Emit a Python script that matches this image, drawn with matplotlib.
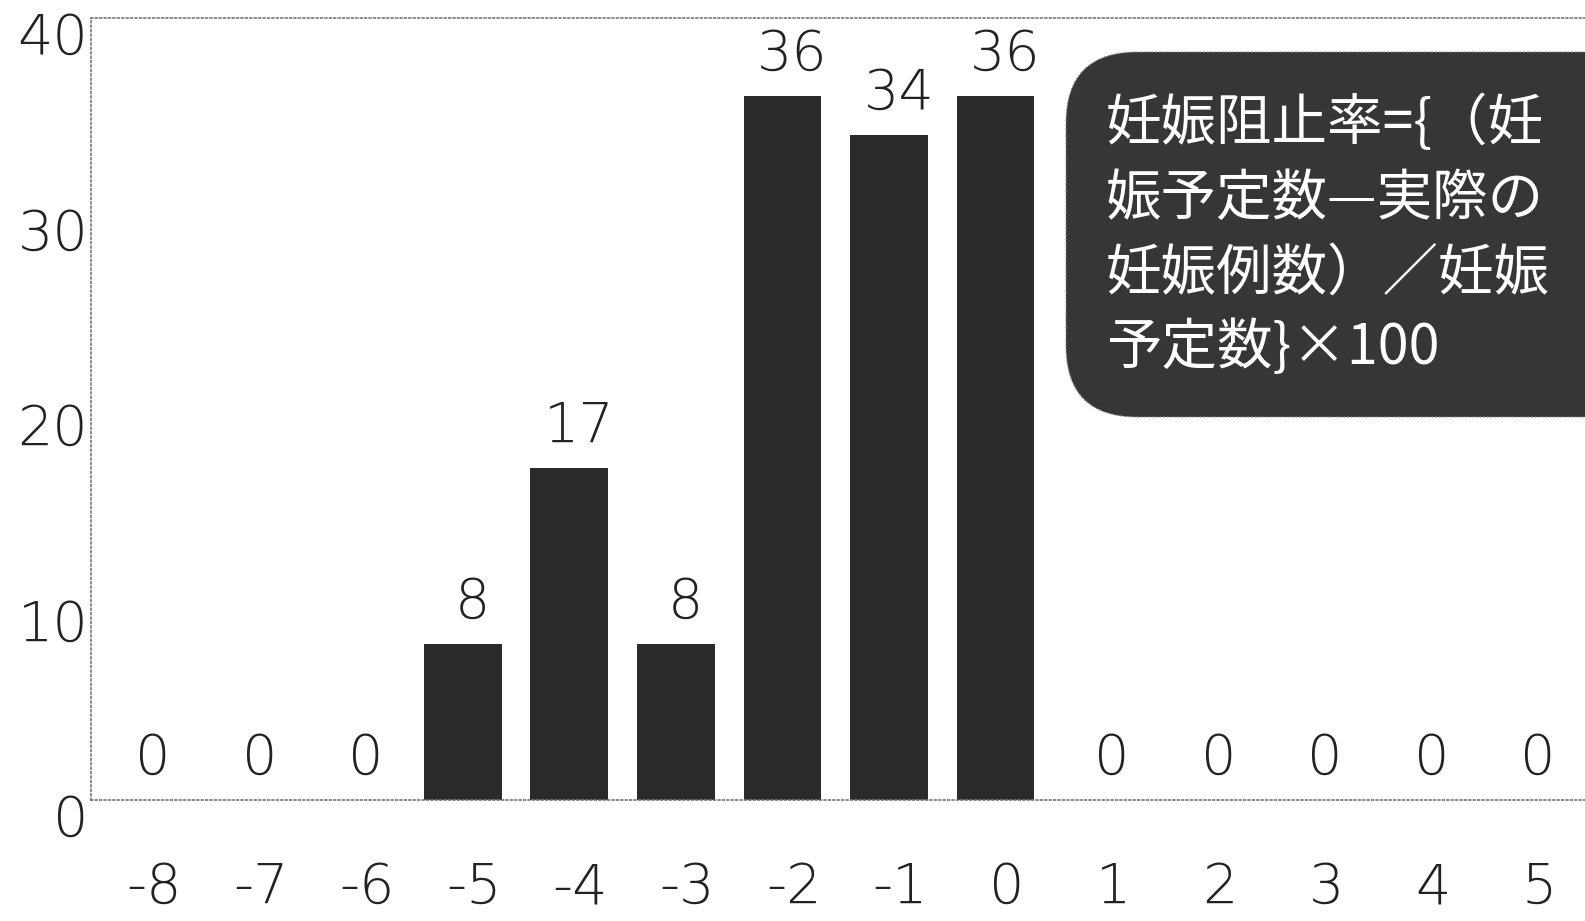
import matplotlib.pyplot as plt
from matplotlib.patches import FancyBboxPatch
from matplotlib.transforms import ScaledTranslation

plt.rcParams["font.family"] = ["DejaVu Sans", "Noto Sans CJK JP"]

# 月（投与開始からの相対月）と妊娠阻止率
months = [-8, -7, -6, -5, -4, -3, -2, -1, 0, 1, 2, 3, 4, 5]
rates = [0, 0, 0, 8, 17, 8, 36, 34, 36, 0, 0, 0, 0, 0]
yticks = [0, 10, 20, 30, 40]
note = "妊娠阻止率={（妊\n娠予定数—実際の\n妊娠例数）／妊娠\n予定数}×100"

fig = plt.figure(figsize=(15.85, 9.21), dpi=100)
ax = fig.add_axes([91 / 1585, 1 - 800 / 921, 1 - 91 / 1585 + 0.02, (800 - 18) / 921])

ax.bar(months, rates, width=0.73, color="#2a2a2a", zorder=2)
ax.set_xlim(-8.49, 5.83)
ax.set_ylim(0, 40)

num_font = dict(family=["DejaVu Sans"], weight="light", size=40, color="#222222")

for m, r in zip(months, rates):
    ax.annotate(str(r), (m, r), xytext=(7, 10), textcoords="offset points",
                ha="center", va="bottom", **num_font)

ax.set_xticks(months)
ax.set_xticklabels([str(m) for m in months], **num_font)
ax.set_yticks(yticks)
ax.set_yticklabels([str(v) for v in yticks], **num_font)
ax.tick_params(length=0)
ax.tick_params(axis="x", pad=44)
ax.tick_params(axis="y", pad=2)
for lbl in ax.get_xticklabels():
    lbl.set_transform(lbl.get_transform() + ScaledTranslation(8 / 72, 0, fig.dpi_scale_trans))
for lbl in ax.get_yticklabels():
    lbl.set_transform(lbl.get_transform() + ScaledTranslation(0, -11 / 72, fig.dpi_scale_trans))

for side in ["top", "left", "bottom"]:
    ax.spines[side].set_linestyle(":")
    ax.spines[side].set_color("#777777")
    ax.spines[side].set_linewidth(1.2)
ax.spines["right"].set_visible(False)

# 説明ボックス
box = FancyBboxPatch((1066 / 1585, 1 - 417 / 921), 0.4, (417 - 52) / 921,
                     boxstyle="round,pad=0,rounding_size=0.045",
                     transform=fig.transFigure, facecolor="#363636",
                     edgecolor="#888888", linewidth=1, linestyle=":",
                     mutation_aspect=1585 / 921, zorder=5)
fig.patches.append(box)
fig.text(1106 / 1585, 1 - 96 / 921, note, color="white", fontsize=40,
         family=["Noto Sans CJK JP", "DejaVu Sans"],
         va="top", ha="left", linespacing=1.38, zorder=6)

fig.savefig("out.png", dpi=100)
